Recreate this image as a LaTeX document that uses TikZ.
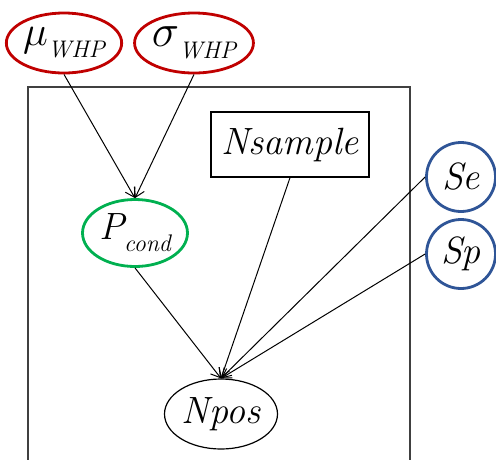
\RequirePackage{fix-cm}
\documentclass[tikz,border=0pt]{standalone}
\usetikzlibrary{shapes.geometric,arrows.meta}
\definecolor{priorred}{RGB}{192,0,0}
\definecolor{condgreen}{RGB}{0,176,80}
\definecolor{testblue}{RGB}{47,85,151}
\newcommand{\lowsub}[1]{\raisebox{-0.32em}{\fontsize{24}{24}\selectfont\itshape #1}}
\tikzset{
  var/.style={ellipse, draw, inner sep=0pt, line width=1.2pt, font=\fontsize{38}{38}\selectfont\itshape},
  prior/.style={var, draw=priorred, line width=2.8pt, minimum width=105pt, minimum height=60pt},
  testvar/.style={var, circle, draw=testblue, line width=2.8pt, minimum size=69pt},
  link/.style={-{Straight Barb[length=9pt,width=11pt]}, line width=1pt},
}
\begin{document}
\begin{tikzpicture}[x=1pt,y=-1pt]
\useasboundingbox (0,0) rectangle (496,459);

\draw[line width=1.4pt, black!75] (28,470) -- (28,87) -- (410,87) -- (410,470);

\node[prior] (mu) at (64,43) {{\fontsize{42}{42}\selectfont$\mu$}\lowsub{WHP}};
\node[prior, minimum width=111pt] (sigma) at (194,43) {{\fontsize{46}{46}\selectfont$\sigma$}\lowsub{WHP}};
\node[draw, line width=1.4pt, minimum width=158pt, minimum height=65pt, inner sep=0pt, font=\fontsize{38}{38}\selectfont\itshape] (ns) at (290,144.5) {Nsample};
\node[testvar] (se) at (461,177) {Se};
\node[testvar] (sp) at (461,254) {Sp};
\node[var, draw=condgreen, line width=2.8pt, minimum width=105pt, minimum height=67pt] (pc) at (135,233) {P\lowsub{cond}};
\node[var, minimum width=113pt, minimum height=70pt] (np) at (221,414) {Npos};

\draw[link] (mu.south) -- (pc.north);
\draw[link] (sigma.south) -- (pc.north);
\draw[link] (pc.south) -- (np.north);
\draw[link] (ns.south) -- (np.north);
\draw[link] (se.west) -- (np.north);
\draw[link] (sp.west) -- (np.north);
\end{tikzpicture}
\end{document}
